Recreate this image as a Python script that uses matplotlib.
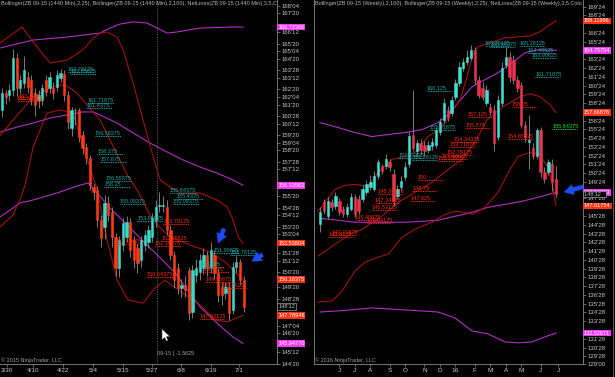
import numpy as np
import matplotlib
matplotlib.use("Agg")
import matplotlib.pyplot as plt
from matplotlib.patches import FancyArrowPatch, Polygon

plt.rcParams['font.family'] = ['Liberation Sans', 'DejaVu Sans']

# ---------------- daily chart (left) ----------------
d_open = [161.28, 162.39, 162.26, 162.59, 164.69, 162.72, 163.05, 163.44, 163.25, 162.39,
          161.93, 161.93, 163.25, 162.72, 162.72, 162.79, 163.38, 163.64, 162.26, 160.10,
          161.25, 161.28, 159.64, 158.85, 158.12, 156.20, 156.02, 154.05, 153.60, 155.17,
          154.58, 152.94, 150.90, 152.41, 152.94, 153.92, 152.74, 152.20, 151.43, 152.41,
          152.60, 152.94, 154.05, 154.96, 154.96, 154.90, 153.40, 151.76, 150.90, 149.60,
          149.80, 150.77, 148.01, 150.45, 150.64, 150.90, 151.76, 150.90, 151.76, 150.58,
          149.66, 149.26, 149.66, 148.15, 150.97, 151.30, 150.12]
d_high = [162.7, 162.6, 163.0, 165.3, 165.0, 163.6, 164.8, 163.8, 163.6, 162.7,
          162.6, 163.0, 163.6, 163.8, 163.1, 163.9, 164.0, 163.9, 162.5, 161.5,
          161.4, 161.4, 159.9, 159.1, 158.3, 156.4, 156.3, 154.4, 155.7, 155.6,
          154.9, 153.2, 153.0, 154.2, 154.3, 154.2, 153.0, 152.5, 153.0, 153.4,
          153.7, 154.5, 155.4, 155.9, 155.6, 155.4, 153.7, 152.0, 151.2, 150.2,
          150.4, 151.0, 151.1, 151.5, 151.8, 152.2, 152.0, 152.6, 152.1, 150.9,
          150.0, 150.0, 150.0, 151.3, 151.7, 151.5, 150.4]
d_low = [160.8, 161.7, 161.9, 162.2, 162.2, 162.4, 162.7, 162.4, 161.6, 160.9,
         161.4, 161.6, 162.2, 162.4, 162.0, 162.5, 163.1, 161.9, 160.0, 159.6,
         160.3, 159.2, 158.4, 157.7, 156.0, 155.4, 153.6, 152.3, 152.8, 154.0,
         152.3, 150.4, 150.3, 152.0, 152.6, 151.6, 150.9, 150.6, 151.0, 152.0,
         152.2, 152.6, 153.6, 154.6, 154.6, 153.1, 151.4, 149.6, 149.2, 149.0,
         149.0, 147.5, 147.6, 150.0, 150.1, 150.5, 150.4, 150.6, 150.2, 148.7,
         148.5, 148.9, 147.5, 147.9, 150.6, 149.8, 148.0]
d_close = [162.39, 162.13, 162.59, 164.69, 162.72, 163.25, 163.90, 162.79, 161.93, 161.61,
           162.26, 162.72, 162.46, 163.44, 162.39, 163.58, 163.71, 162.26, 160.49, 161.28,
           161.28, 159.50, 158.78, 158.12, 156.35, 155.90, 154.05, 152.87, 155.17, 154.38,
           152.94, 150.90, 152.74, 153.86, 153.92, 152.08, 151.43, 151.23, 152.74, 153.07,
           153.40, 154.18, 154.90, 155.04, 155.04, 153.40, 151.76, 150.12, 149.60, 149.80,
           149.46, 147.95, 150.77, 150.90, 151.43, 151.76, 150.90, 152.08, 150.58, 149.13,
           149.13, 149.66, 147.95, 150.97, 151.30, 150.12, 148.375]

d_dates = ['3/30', '4/10', '4/22', '5/4', '5/15', '5/27', '6/8', '6/19', '7/1']
d_date_pos = [1.4, 8.5, 16.7, 24.9, 33.1, 41, 48.9, 57.1, 64.8]

# Bollinger(2,25) - red
d_u25_x = [-0.55, 5.5, 8.5, 13.1, 17.8, 22.1, 24.9, 26.8, 28.7, 31.4, 33.1, 35.8, 38.5, 41.3,
           43.2, 45.1, 48.6, 54.1, 58.7, 61.5, 63.1, 64.5, 65.8]
d_u25 = [165.68, 166.73, 165.74, 164.36, 164.56, 165.22, 166.00, 166.33, 166.40, 166.07, 165.22,
         163.05, 160.62, 158.19, 156.68, 156.35, 155.83, 155.83, 155.37, 154.91, 154.05, 152.94, 152.54]
d_m25_x = [-0.55, 3.0, 8.5, 13.1, 15.8, 17.8, 20.5, 22.1, 24.9, 26.8, 29.5, 32.2, 34.2, 36.9,
           40.4, 43.2, 45.9, 51.4, 56.8, 60.9, 63.7, 65.8]
d_m25 = [159.6, 160.62, 162.13, 162.72, 162.92, 162.85, 162.39, 161.93, 161.15, 160.62, 159.31,
         157.99, 157.01, 156.02, 154.38, 153.53, 152.94, 152.41, 151.95, 151.30, 150.64, 150.16]
d_l25_x = [-0.55, 3.0, 4.9, 6.3, 8.5, 12.3, 15.8, 19.4, 22.1, 24.0, 26.0, 28.7, 31.4, 34.4,
           38.5, 41.8, 44.5, 48.6, 54.1, 58.2, 61.7, 63.9, 65.8]
d_l25 = [153.6, 154.38, 155.37, 156.35, 158.85, 161.08, 161.28, 161.08, 158.9, 157.53, 156.02,
         152.74, 150.12, 148.80, 148.60, 149.60, 150.10, 149.40, 148.47, 147.49, 147.36, 147.62, 147.79]
# Bollinger(2,100) - magenta
d_u100_x = [-0.55, 8.5, 17.8, 26.8, 29.5, 32.2, 35.8, 39.6, 42.3, 45.1, 47.8, 54.1, 63.1, 65.8]
d_u100 = [165.35, 165.87, 166.07, 166.33, 166.66, 166.92, 167.06, 166.99, 166.66, 166.33,
          166.40, 166.66, 166.73, 166.72]
d_m100_x = [-0.55, 4.1, 8.5, 13.1, 17.8, 22.1, 24.9, 26.8, 31.4, 35.8, 40.4, 45.1, 49.5, 54.1,
            58.7, 63.1, 65.8]
d_m100 = [159.83, 160.16, 160.42, 160.75, 160.95, 161.15, 161.15, 160.95, 160.42, 159.77,
          159.11, 158.52, 157.99, 157.53, 157.14, 156.68, 156.34]
d_l100_x = [-0.55, 4.9, 8.5, 15.0, 21.3, 23.5, 26.0, 29.5, 34.2, 37.7, 40.4, 43.2, 47.3, 50.6,
            54.1, 58.7, 63.1, 65.8]
d_l100 = [154.25, 155.17, 155.37, 155.83, 156.35, 156.48, 155.83, 154.84, 153.73, 152.87,
          152.22, 151.56, 150.58, 149.46, 148.34, 147.29, 146.37, 145.95]

d_teal_vals = ['163.78125', '163.65625', '161.71875', '161.4375', '159.59375', '158.375',
               '157.875', '156.59375', '156.25', '155.09375', '153.96875', '155.84375',
               '155.4375', '155.09375', '151.90625', '151.78125', '150.9375']
d_teal_x = [18.0, 18.6, 23.5, 23.0, 25.4, 26.0, 26.8, 28.4, 27.9, 32.2, 36.9, 45.9,
            47.8, 46.7, 57.7, 62.3, 53.5]
d_red_vals = ['162', '161.84375', '153.78125', '152.65625', '152.34375', '152.46875',
              '150.34375', '150.625', '149.96875', '149.5625', '147.53125']
d_red_x = [4.4, 4.0, 44.0, 43.7, 41.8, 30.9, 39.6, 55.0, 55.5, 60.0, 54.0]

d_ticks = ["168'04", "167'20", "166'12", "165'20", "165'04", "164'20", "163'28", "163'12",
           "162'20", "162'04", "161'20", "160'28", "160'12", "159'20", "159'04", "158'20",
           "157'28", "157'12", "155'20", "154'28", "154'12", "153'20", "153'04", "151'28",
           "151'12", "150'20", "149'20", "148'28", "147'04", "146'20", "145'12", "144'20"]
d_tags = ['166.72366', '156.33563', '152.53804', '150.16375', '147.78946', '145.94770']
d_tag_kind = ['m', 'm', 'r', 'r', 'r', 'm']

# ---------------- weekly chart (right) ----------------
w_open = [144.93, 147.43, 145.84, 147.43, 146.98, 147.55, 146.64, 146.07, 146.64, 148.00,
          147.77, 147.77, 148.57, 149.14, 148.91, 150.39, 151.52, 151.52, 151.98, 150.61,
          148.11, 149.14, 150.27, 151.75, 155.16, 153.23, 154.25, 154.02, 153.45, 153.80,
          154.02, 155.50, 156.86, 158.00, 157.66, 159.48, 161.07, 162.77, 163.45, 163.91,
          164.82, 161.41, 160.50, 158.80, 158.34, 158.00, 154.93, 158.80, 163.11, 164.02,
          163.68, 161.41, 160.84, 156.30, 154.36, 153.68, 152.66, 155.73, 150.84, 150.84,
          151.75, 150.05]
w_high = [146.86, 147.77, 148.00, 147.77, 148.57, 147.89, 146.98, 147.32, 148.45, 148.34,
          148.23, 149.36, 149.93, 150.50, 150.95, 152.32, 151.75, 152.89, 152.32, 151.18,
          149.36, 150.39, 151.98, 155.50, 160.27, 154.59, 154.70, 154.48, 154.48, 154.82,
          156.07, 157.09, 159.36, 158.45, 159.59, 161.52, 163.45, 163.91, 164.82, 165.39,
          165.16, 161.86, 161.18, 160.84, 158.80, 158.57, 159.70, 163.45, 165.16, 164.59,
          164.25, 161.86, 161.18, 156.75, 157.43, 154.14, 155.95, 156.07, 151.41, 152.32,
          152.32, 151.52]
w_low = [144.02, 146.07, 145.50, 146.41, 146.64, 145.95, 145.73, 145.73, 146.41, 145.73,
         146.07, 147.43, 148.23, 148.80, 148.68, 150.05, 150.61, 151.18, 150.95, 146.98,
         147.77, 148.68, 149.93, 151.41, 153.23, 152.77, 152.89, 152.77, 153.11, 153.45,
         153.68, 155.16, 156.52, 156.75, 157.32, 159.14, 160.73, 162.43, 163.11, 163.68,
         160.95, 159.36, 159.14, 158.45, 157.43, 153.34, 154.59, 158.45, 162.77, 161.18,
         160.95, 160.05, 155.95, 154.36, 151.18, 152.32, 152.32, 150.27, 149.59, 150.50,
         148.68, 148.00]
w_close = [146.30, 146.41, 147.55, 146.86, 148.11, 146.30, 146.07, 146.86, 148.00, 146.07,
           146.41, 148.91, 149.48, 149.70, 150.39, 151.98, 150.95, 152.32, 151.41, 147.55,
           148.91, 149.82, 151.41, 155.05, 153.68, 154.25, 153.45, 153.23, 154.02, 154.36,
           155.73, 156.64, 158.80, 157.09, 159.14, 161.07, 162.89, 163.45, 164.02, 164.82,
           161.41, 159.70, 159.48, 160.27, 157.77, 154.25, 159.14, 162.77, 164.02, 161.75,
           161.41, 160.50, 156.30, 154.93, 154.59, 152.66, 155.73, 150.84, 150.05, 151.98,
           149.70, 148.375]

w_months = ['J', 'J', 'A', 'S', 'O', 'N', 'D', '16', 'F', 'M', 'A', 'M', 'J', 'J']
w_month_pos = [5, 9, 13, 18, 22, 27, 31, 35, 40, 44, 48, 52, 57, 61.5]

w_u25_x = [-0.52, 1.81, 3.88, 6.46, 9.04, 12.4, 15.0, 18.6, 22.0, 24.5, 27.9, 31.5, 34.1, 36.2,
           38.0, 39.5, 40.8, 43.9, 47.8, 51.2, 54.3, 56.8, 58.9, 61.0]
w_u25 = [146.41, 147.77, 148.91, 149.36, 149.48, 149.25, 150.84, 152.32, 152.66, 153.11, 154.93,
         155.95, 157.77, 159.14, 161.75, 164.25, 165.16, 165.61, 166.18, 166.30, 166.41, 166.86,
         167.55, 168.12]
w_m25_x = [-0.5, 3.9, 7.8, 10.9, 16.0, 20.2, 24.5, 28.9, 33.1, 36.7, 40.1, 43.2, 47.3, 51.7,
           54.3, 56.8, 59.4, 61.0]
w_m25 = [141.30, 142.66, 143.80, 144.36, 145.84, 147.43, 148.57, 149.70, 151.18, 152.32, 154.36,
         156.86, 158.34, 159.48, 159.82, 159.48, 158.57, 157.67]
w_l25_x = [-0.5, 3.1, 5.7, 9.0, 11.6, 15.0, 17.6, 21.2, 24.5, 28.9, 32.3, 34.9, 37.5, 39.3,
           42.6, 46.0, 49.1, 51.2, 54.3, 56.8, 58.7, 59.9, 61.0]
w_l25 = [136.07, 136.18, 137.32, 139.59, 140.61, 141.18, 141.52, 143.45, 144.36, 145.16, 146.07,
         146.41, 146.30, 146.07, 146.86, 148.57, 151.18, 152.66, 153.11, 152.89, 151.52, 149.70,
         147.02]
w_u100_x = [0, 4.7, 9.0, 13.4, 17.6, 22.0, 26.4, 30.5, 33.1, 35.7, 39.3, 42.6, 46.0, 49.6,
            53.0, 56.3, 61.0]
w_u100 = [156.52, 155.95, 155.39, 154.93, 155.16, 155.39, 155.73, 156.52, 157.43, 158.80,
          160.61, 161.41, 162.20, 163.34, 164.48, 164.82, 164.76]
w_m100_x = [0, 4.7, 9.0, 17.6, 22.0, 26.4, 30.5, 34.9, 39.3, 43.4, 47.8, 52.2, 56.3, 61.0]
w_m100 = [145.61, 145.39, 145.16, 145.16, 145.16, 145.27, 145.39, 145.84, 146.30, 146.86,
          147.20, 147.55, 148.00, 148.57]
w_l100_x = [0, 4.7, 13.4, 22.0, 30.5, 34.9, 39.3, 43.4, 47.8, 51.2, 54.8, 58.1, 61.0]
w_l100 = [134.93, 135.05, 135.39, 135.16, 134.93, 134.25, 132.77, 132.43, 131.52, 131.41,
          131.52, 132.09, 132.53]

w_teal_vals = ['165.28125', '165.09375', '165.28125', '164.40625', '163.90625', '161.71875',
               '160.125', '155.71875', '152.53125', '152.28125']
w_teal_x = [42.6, 44.0, 51.7, 53.7, 54.8, 55.6, 27.6, 28.4, 20.2, 23.8]
w_green_vals = ['155.84375']
w_green_x = [60.0]
w_red_vals = ['158.25', '157.125', '155.875', '154.34375', '153.71875', '152.78125', '152.40625',
              '152.15625', '154.65625', '150', '148.75', '148.34375', '147.34375', '147.625',
              '146.53125', '145.40625', '145.03125', '143.71875', '143.4375']
w_red_x = [49.6, 38.2, 37.5, 34.4, 33.6, 32.8, 31.5, 30.5, 48.6, 25.3, 23.8, 15.0, 14.2, 23.3,
           13.4, 9.0, 12.1, 3.1, 2.1]

w_ticks = ["169'24", "168'24", "166'24", "165'24", "163'24", "162'24", "161'24", "160'24",
           "159'24", "158'24", "156'24", "155'24", "154'24", "153'24", "152'24", "151'24",
           "150'24", "149'24", "147'28", "146'28", "145'28", "144'28", "143'28", "142'28",
           "141'28", "140'28", "139'28", "138'28", "137'28", "136'28", "135'28", "134'28",
           "133'28", "131'28", "130'28", "129'28", "129'00"]
w_tags = ['168.11996', '164.75754', '157.66876', '148.56313', '147.01754', '132.52871']
w_tag_kind = ['r', 'm', 'r', 'm', 'r', 'm']

last_price = "148'12"

# ---------------- styling ----------------
BG = '#000000'
GRID = '#8a8a8a'
TXT = '#c8c8c8'
BAND_RED = '#a3130d'
BAND_MAG = '#b42ec4'
TEAL = '#1fa8a8'
NET_RED = '#ff2a0a'
TAG = {'m': '#f23cf2', 'r': '#ff3412'}


def p32(s):
    whole, frac = s.split("'")
    return int(whole) + int(frac) / 32


def candles(ax, o, h, l, c, up, down):
    o, h, l, c = map(np.asarray, (o, h, l, c))
    x = np.arange(len(o))
    ax.vlines(x, l, h, color='#8f8f8f', lw=0.6, zorder=3)
    cols = np.where(c >= o, up, down)
    ax.bar(x, c - o, bottom=o, width=0.62, color=cols, edgecolor=cols, lw=0.4, zorder=4)


def netlines(ax, vals, xs, color, length):
    for v, x0 in zip(vals, xs):
        y = float(v)
        ax.plot([x0, x0 + length], [y, y], color=color, lw=0.7, ls=(0, (1, 0.8)), zorder=5)
        ax.text(x0, y, v, color=color, fontsize=4, ha='left', va='bottom', zorder=6)


def tag(ax, text, y, bg, fg='#ffffff', ec='none', z=10):
    ax.text(1.004, y, text, transform=ax.get_yaxis_transform(), fontsize=4, color=fg,
            va='center', ha='left', clip_on=False, zorder=z,
            bbox=dict(boxstyle='square,pad=0.15', fc=bg, ec=ec, lw=0.5))


def style(ax, ticks, show_left):
    ax.set_facecolor(BG)
    for side in ['top', 'left', 'right', 'bottom']:
        ax.spines[side].set_color(GRID)
        ax.spines[side].set_linewidth(0.6)
    ax.spines['top'].set_visible(False)
    ax.spines['left'].set_visible(show_left)
    ax.yaxis.tick_right()
    ax.set_yticks([p32(t) for t in ticks], ticks)
    ax.tick_params(axis='y', length=2, width=0.5, colors=GRID, labelcolor=TXT,
                   labelsize=4.3, pad=1)
    ax.tick_params(axis='x', length=2, width=0.5, colors=GRID, labelcolor=TXT,
                   labelsize=4.6, pad=1)


def header(ax, s):
    t = ax.text(0.002, 0.997, s, transform=ax.transAxes, fontsize=4, color='#b8b8b8',
                ha='left', va='top', zorder=8)
    t.set_clip_on(True)
    t.set_clip_box(ax.bbox)


fig = plt.figure(figsize=(6.15, 3.77), dpi=100, facecolor=BG)
axL = fig.add_axes([0, 13 / 377, 277 / 615, 364 / 377])
axR = fig.add_axes([314 / 615, 13 / 377, 269 / 615, 364 / 377])

# ---- left ----
style(axL, d_ticks, False)
axL.set_xlim(-0.55, 75.1)
axL.set_ylim(144.6, 168.5)
for xs, ys, col in [(d_u100_x, d_u100, BAND_MAG), (d_m100_x, d_m100, BAND_MAG),
                    (d_l100_x, d_l100, BAND_MAG), (d_u25_x, d_u25, BAND_RED),
                    (d_m25_x, d_m25, BAND_RED), (d_l25_x, d_l25, BAND_RED)]:
    axL.plot(xs, ys, color=col, lw=0.8, zorder=2)
axL.axvline(42.35, color='#9a9a9a', lw=0.5, ls=(0, (1, 1.5)), zorder=1)
candles(axL, d_open, d_high, d_low, d_close, '#3fd8c8', '#ff3b16')
netlines(axL, d_teal_vals, d_teal_x, TEAL, 7)
netlines(axL, d_red_vals, d_red_x, NET_RED, 7)
axL.set_xticks(d_date_pos, d_dates)
for s, k in zip(d_tags, d_tag_kind):
    tag(axL, s, float(s), TAG[k])
tag(axL, last_price, d_close[-1], BG, fg=TXT, ec='#9a9a9a', z=11)
header(axL, 'Bollinger(ZB 09-15 (1440 Min),2,25), Bollinger(ZB 09-15 (1440 Min),2,100), '
            'NetLines(ZB 09-15 (1440 Min),3,5,Color')
axL.text(0.004, 0.004, '\u00a9 2015 NinjaTrader, LLC', transform=axL.transAxes, fontsize=4,
         color='#a0a0a0', ha='left', va='bottom')
axL.text(0.568, 0.022, '09-15 | -1.5625', transform=axL.transAxes, fontsize=4,
         color='#a0a0a0', ha='left', va='bottom')

# ---- right ----
style(axR, w_ticks, True)
axR.set_xlim(-1.55, 67.96)
axR.set_ylim(129.0, 170.5)
for xs, ys, col in [(w_u100_x, w_u100, BAND_MAG), (w_m100_x, w_m100, BAND_MAG),
                    (w_l100_x, w_l100, BAND_MAG), (w_u25_x, w_u25, BAND_RED),
                    (w_m25_x, w_m25, BAND_RED), (w_l25_x, w_l25, BAND_RED)]:
    axR.plot(xs, ys, color=col, lw=0.8, zorder=2)
candles(axR, w_open, w_high, w_low, w_close, '#40e0d0', '#e8344c')
netlines(axR, w_teal_vals, w_teal_x, TEAL, 6.5)
netlines(axR, w_green_vals, w_green_x, '#1ee01e', 6.5)
netlines(axR, w_red_vals, w_red_x, NET_RED, 6.5)
axR.set_xticks(w_month_pos, w_months)
for s, k in zip(w_tags, w_tag_kind):
    tag(axR, s, float(s), TAG[k])
tag(axR, last_price + '   ', w_close[-1], BG, fg=TXT, ec='#9a9a9a', z=11)
header(axR, 'Bollinger(ZB 09-15 (Weekly),2,100), Bollinger(ZB 09-15 (Weekly),2,25), '
            'NetLines(ZB 09-15 (Weekly),3,5,Colo')
axR.text(0.004, 0.004, '\u00a9 2016 NinjaTrader, LLC', transform=axR.transAxes, fontsize=4,
         color='#a0a0a0', ha='left', va='bottom')

# ---- blue arrows ----
blue = '#1d4cf5'
for tail, head in [((225, 226), (217, 246)), ((265, 253), (249, 263)), ((586, 186), (561, 193))]:
    fig.add_artist(FancyArrowPatch(
        (tail[0] / 615, 1 - tail[1] / 377), (head[0] / 615, 1 - head[1] / 377),
        transform=fig.transFigure, color=blue, mutation_scale=8, lw=0,
        arrowstyle='simple,head_length=0.9,head_width=1.0,tail_width=0.4', zorder=20))

# mouse pointer left on the daily chart
cursor = [(162, 329), (162, 340), (164.6, 337.4), (166.4, 341.2), (168, 340.4),
          (166.3, 336.7), (169.8, 336.5)]
fig.add_artist(Polygon([(x / 615, 1 - y / 377) for x, y in cursor], closed=True,
                       transform=fig.transFigure, fc='white', ec='#404040', lw=0.3, zorder=21))

# outer frame line at the right edge
fig.add_artist(plt.Line2D([613 / 615, 613 / 615], [0, 1], transform=fig.transFigure,
                          color='#6a6a6a', lw=0.6))

fig.savefig('out.png', dpi=100, facecolor=BG)
